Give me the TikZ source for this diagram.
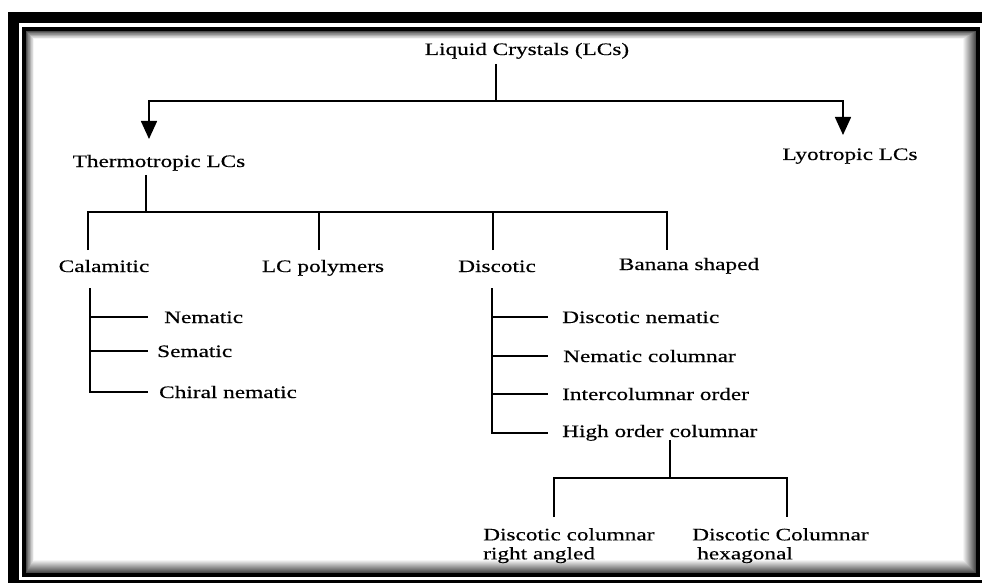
\documentclass[tikz,border=0pt]{standalone}
\usepackage{fontspec}
\setmainfont{Liberation Serif}[FakeStretch=1.33,FakeBold=0.4]
\usetikzlibrary{arrows.meta}
\begin{document}
\begin{tikzpicture}[x=1pt,y=-1pt,
  lbl/.style={inner sep=0pt, font=\fontsize{17.5}{19}\selectfont},
  ln/.style={line width=1.6pt},
  arr/.style={ln,-{Triangle[length=18pt,width=16pt]}}]
\useasboundingbox (0,0) rectangle (982,583);
% frame
\fill[black] (8,12) rectangle (982,583);
\fill[white] (19,23) rectangle (982,580);
\fill[black] (22,27) rectangle (980,577);
\foreach \i in {0,...,12} {
  \pgfmathsetmacro{\c}{70-5.5*\i}
  \fill[black!\c!white] (26+0.6*\i,31+0.6*\i) rectangle (976-\i,573-\i);
}
\fill[white] (34,39) rectangle (963,560);
% nodes
\node[lbl,anchor=base] (root) at (527,55) {Liquid Crystals (LCs)};
\node[lbl,anchor=base] (thermo) at (159,167) {Thermotropic LCs};
\node[lbl,anchor=base] (lyo) at (850,160) {Lyotropic LCs};
\node[lbl,anchor=base] (cal) at (104,272) {Calamitic};
\node[lbl,anchor=base] (poly) at (323,272) {LC polymers};
\node[lbl,anchor=base] (disc) at (497,272) {Discotic};
\node[lbl,anchor=base] (ban) at (689,270) {Banana shaped};
\node[lbl,anchor=base west] (nem) at (164,323) {Nematic};
\node[lbl,anchor=base west] (sem) at (157,357) {Sematic};
\node[lbl,anchor=base west] (chi) at (159,398) {Chiral nematic};
\node[lbl,anchor=base west] (dn) at (562,323) {Discotic nematic};
\node[lbl,anchor=base west] (nc) at (563,362) {Nematic columnar};
\node[lbl,anchor=base west] (io) at (562,400) {Intercolumnar order};
\node[lbl,anchor=base west] (ho) at (562,437) {High order columnar};
\node[lbl,anchor=north west,align=left] (dcr) at (483,528) {Discotic columnar\\right angled};
\node[lbl,anchor=north west,align=left] (dch) at (692,528) {Discotic Columnar\\\hspace{5pt}hexagonal};
% coordinates
\coordinate (j0) at (496,101);
\coordinate (aL) at (149,139);
\coordinate (aR) at (843,135);
\coordinate (j1) at (146,212);
\coordinate (c1) at (88,250);
\coordinate (c2) at (319,250);
\coordinate (c3) at (493,250);
\coordinate (c4) at (667,250);
\coordinate (cv) at (90,288);
\coordinate (ce) at (148,0);
\coordinate (dv) at (492,288);
\coordinate (de) at (548,0);
\coordinate (hv) at (670,440);
\coordinate (hb) at (670,478);
\coordinate (e1) at (554,517);
\coordinate (e2) at (787,517);
% connectors
\draw[ln,shorten <=5pt] (j0 |- root.south) -- (j0);
\draw[arr] (j0) -| (aL);
\draw[arr] (j0) -| (aR);
\draw[ln,shorten <=4pt] (j1 |- thermo.south) -- (j1);
\draw[ln] (c1) -- (c1 |- j1) -- (c4 |- j1) -- (c4);
\draw[ln] (c2) -- (c2 |- j1);
\draw[ln] (c3) -- (c3 |- j1);
\draw[ln] (cv) |- (chi.west -| ce);
\draw[ln] (nem.west -| cv) -- (nem.west -| ce);
\draw[ln] (sem.west -| cv) -- (sem.west -| ce);
\draw[ln] (dv) |- (ho.west -| de);
\draw[ln] (dn.west -| dv) -- (dn.west -| de);
\draw[ln] (nc.west -| dv) -- (nc.west -| de);
\draw[ln] (io.west -| dv) -- (io.west -| de);
\draw[ln] (hv) -- (hb);
\draw[ln] (e1) |- (hb) -| (e2);
\end{tikzpicture}
\end{document}
